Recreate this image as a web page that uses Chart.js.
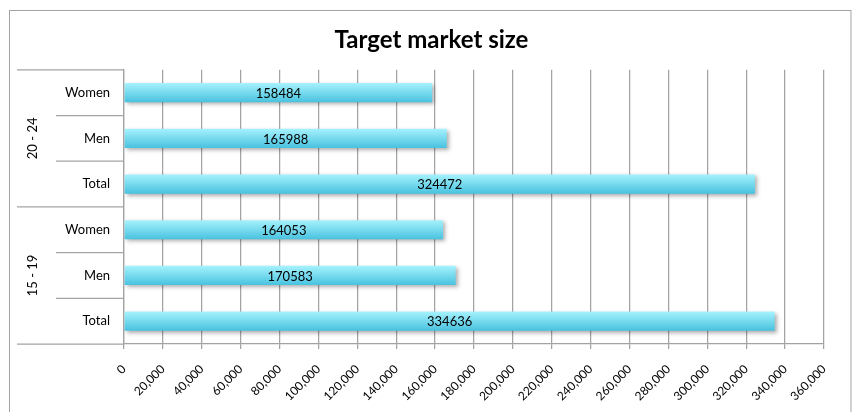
<!DOCTYPE html>
<html><head><meta charset="utf-8">
<script src="https://cdn.jsdelivr.net/npm/chart.js@4/dist/chart.umd.min.js"></script>
<style>html,body{margin:0;padding:0;background:#fff}#wrap{width:852px;height:412px}</style>
</head><body><div id="wrap"><canvas id="c" width="852" height="412"></canvas></div>
<script>
// ---- data ----
const categories = ['Women', 'Men', 'Total', 'Women', 'Men', 'Total'];
const groups = ['20 - 24', '15 - 19'];
const groupSizes = [3, 3];
const values = [158484, 165988, 324472, 164053, 170583, 334636];
const xTickValues = [0, 20000, 40000, 60000, 80000, 100000, 120000, 140000, 160000, 180000,
  200000, 220000, 240000, 260000, 280000, 300000, 320000, 340000, 360000];
const titleText = 'Target market size';

const FONT = 'Lato, "Open Sans", "DejaVu Sans", sans-serif';
const GRID = '#a3a3a3';
const BAR_FRAC = 0.42;

const framePlugin = {
  id: 'frame',
  beforeDraw(chart) {
    const c = chart.ctx;
    c.save();
    c.fillStyle = '#fff';
    c.fillRect(0, 0, chart.width, chart.height);
    c.strokeStyle = GRID;
    c.lineWidth = 1;
    c.strokeRect(9.5, 10.5, chart.width - 10.5, chart.height + 10);
    c.restore();
  }
};

const hierPlugin = {
  id: 'hier',
  afterDraw(chart) {
    const ys = chart.scales.y, yg = chart.scales.yg;
    const c = chart.ctx;
    const n = categories.length;
    const row = ys.height / n;
    c.save();
    c.strokeStyle = GRID;
    c.lineWidth = 1.25;
    let acc = 0;
    const groupBounds = new Set([0]);
    groupSizes.forEach(s => { acc += s; groupBounds.add(acc); });
    for (let k = 0; k <= n; k++) {
      const yy = ys.top + k * row;
      const x0 = groupBounds.has(k) ? yg.left : ys.left;
      c.beginPath();
      c.moveTo(x0, yy);
      c.lineTo(ys.right, yy);
      c.stroke();
    }
    c.restore();
  }
};

const barDecor = {
  id: 'barDecor',
  beforeDatasetsDraw(chart) {
    const c = chart.ctx;
    c.save();
    c.shadowColor = 'rgba(0,0,0,0.32)';
    c.shadowBlur = 4;
    c.shadowOffsetX = 2;
    c.shadowOffsetY = 2;
  },
  afterDatasetsDraw(chart) {
    const c = chart.ctx;
    c.restore();
    c.save();
    c.font = '13px ' + FONT;
    c.fillStyle = '#000';
    c.textAlign = 'center';
    c.textBaseline = 'middle';
    const meta = chart.getDatasetMeta(0);
    meta.data.forEach((el, i) => {
      c.fillText(String(values[i]), (el.base + el.x) / 2, el.y + 1);
    });
    c.restore();
  }
};

new Chart(document.getElementById('c'), {
  type: 'bar',
  data: {
    labels: categories,
    datasets: [{
      data: values,
      categoryPercentage: 1,
      barPercentage: BAR_FRAC,
      borderWidth: 0,
      backgroundColor(ctx) {
        const chart = ctx.chart;
        const ys = chart.scales.y;
        if (!ys || ctx.dataIndex == null || !ys.height) return '#6fd3ea';
        const cy = ys.getPixelForValue(ctx.dataIndex);
        const h = ys.height / categories.length * BAR_FRAC;
        const g = chart.ctx.createLinearGradient(0, cy - h / 2, 0, cy + h / 2);
        g.addColorStop(0, '#a6f2fd');
        g.addColorStop(1, '#48c2df');
        return g;
      }
    }]
  },
  options: {
    indexAxis: 'y',
    responsive: false,
    animation: false,
    layout: { padding: { left: 17, right: 6, top: 0, bottom: 0 } },
    plugins: {
      legend: { display: false },
      tooltip: { enabled: false },
      title: {
        display: true,
        text: titleText,
        color: '#000',
        font: { family: FONT, size: 24, weight: 'bold' },
        padding: { top: 26, bottom: 15 }
      }
    },
    scales: {
      x: {
        type: 'linear',
        min: xTickValues[0],
        max: xTickValues[xTickValues.length - 1],
        afterBuildTicks(scale) { scale.ticks = xTickValues.map(v => ({ value: v })); },
        afterFit(scale) { scale.height = 68; },
        grid: { color: GRID, lineWidth: 1.25, tickLength: 5 },
        border: { color: GRID, width: 1.25 },
        ticks: {
          minRotation: 45, maxRotation: 45, padding: 13,
          color: '#000',
          font: { family: FONT, size: 12 },
          callback: v => Number(v).toLocaleString('en-US')
        }
      },
      y: {
        type: 'category',
        position: 'left',
        weight: 0,
        offset: true,
        afterFit(scale) { scale.width = 68; },
        grid: { display: false, drawTicks: false },
        border: { color: GRID, width: 1.25 },
        ticks: { padding: 14, color: '#000', font: { family: FONT, size: 13 } }
      },
      yg: {
        type: 'category',
        position: 'left',
        weight: 1,
        offset: true,
        labels: groups,
        afterFit(scale) { scale.width = 39; },
        grid: { display: false, drawTicks: false },
        border: { display: false },
        ticks: {
          minRotation: 90, maxRotation: 90, crossAlign: 'center', padding: 2,
          color: '#000', font: { family: FONT, size: 13 }
        }
      },
      spacer: {
        type: 'linear',
        position: 'right',
        afterFit(scale) { scale.width = 22; },
        grid: { display: false, drawTicks: false },
        border: { display: false },
        ticks: { display: false }
      }
    }
  },
  plugins: [framePlugin, hierPlugin, barDecor]
});
</script>
</body></html>
